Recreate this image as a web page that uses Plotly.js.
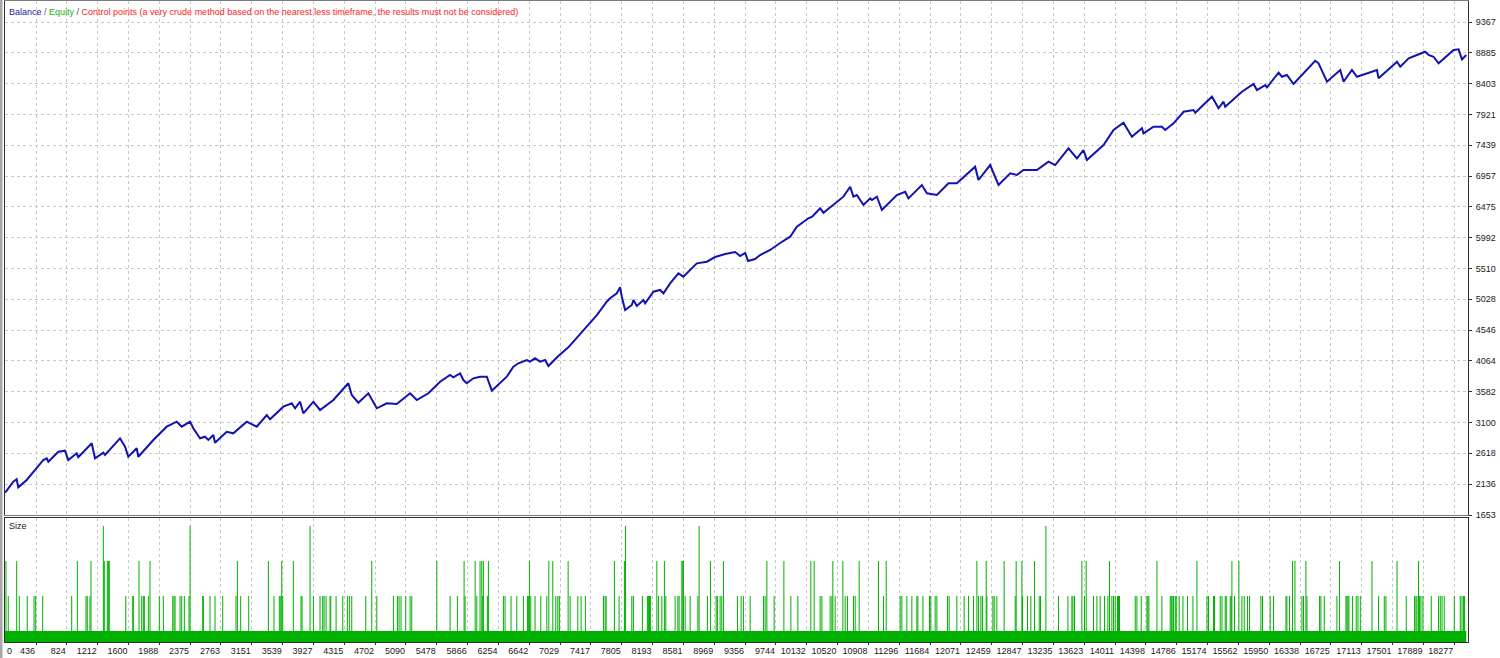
<!DOCTYPE html>
<html><head><meta charset="utf-8">
<script src="https://cdn.plot.ly/plotly-3.0.1.min.js"></script>
<style>html,body{margin:0;padding:0;background:#fff;}#chart{width:1500px;height:658px;}</style>
</head><body><div id="chart"></div>
<script>
const balanceTrades = [0,58,150,193,213,319,528,571,591,717,
801,842,948,968,1137,1178,1283,1304,1493,1556,
1597,1703,1723,1912,2080,2206,2269,2374,2415,2499,
2562,2604,2667,2688,2835,2918,3087,3213,3339,3380,
3548,3653,3695,3758,3799,3925,4009,4177,4365,4408,
4491,4617,4723,4849,4974,5142,5226,5372,5519,5645,
5686,5771,5812,5855,5938,6022,6107,6148,6170,6358,
6441,6504,6567,6610,6651,6714,6777,6840,6882,7007,
7133,7343,7491,7616,7658,7742,7784,7805,7847,7931,
7951,7994,8077,8098,8203,8287,8329,8413,8517,8580,
8749,8875,8979,9105,9231,9294,9357,9394,9482,9545,
9671,9797,9923,10007,10153,10200,10300,10342,10468,10593,
10678,10719,10762,10845,10929,10951,11014,11077,11265,11370,
11411,11580,11643,11769,11915,12020,12250,12292,12439,12544,
12691,12775,12858,13027,13173,13257,13424,13530,13613,13656,
13865,13991,14116,14222,14348,14368,14494,14599,14641,14746,
14872,14997,15019,15229,15312,15375,15396,15606,15752,15795,
15899,15921,16067,16109,16172,16255,16528,16570,16676,16801,
16843,16885,16990,17053,17179,17242,17305,17325,17557,17598,
17703,17808,17912,17954,18017,18080,18206,18269,18332,18374,
18428];
const balanceValues = [2000,2018,2174,2212,2086,2201,2514,2540,2487,2643,
2659,2514,2618,2556,2775,2540,2628,2592,2853,2722,
2565,2697,2565,2827,3035,3113,3035,3113,3010,2853,
2878,2827,2905,2784,2956,2931,3113,3035,3218,3150,
3348,3401,3323,3426,3244,3426,3296,3452,3714,3531,
3410,3557,3323,3401,3390,3557,3452,3557,3739,3844,
3808,3870,3765,3714,3792,3817,3817,3660,3598,3817,
3973,4027,4052,4078,4052,4105,4052,4078,3984,4141,
4277,4574,4782,4991,5044,5122,5216,5069,4861,4939,
5017,4923,5017,4966,5147,5174,5122,5278,5435,5382,
5591,5616,5690,5737,5768,5706,5753,5627,5659,5721,
5800,5909,6008,6164,6296,6320,6452,6383,6504,6634,
6790,6634,6660,6504,6608,6582,6634,6425,6660,6712,
6608,6817,6687,6660,6843,6843,7103,6895,7129,6817,
7000,6973,7051,7051,7181,7129,7391,7234,7364,7208,
7442,7677,7791,7572,7704,7625,7729,7729,7677,7782,
7963,7990,7948,8198,8017,8120,8042,8276,8397,8303,
8381,8345,8574,8511,8538,8397,8761,8721,8433,8564,
8616,8433,8616,8511,8564,8589,8616,8486,8746,8668,
8799,8851,8902,8851,8824,8721,8851,8929,8940,8783,
8851];

const sizeTrades = [58,87,193,226,326,411,432,520,885,956,1065,1081,1115,1128,1283,1295,1333,1346,1358,1565,
1653,1660,1732,1766,1786,1799,1849,1870,1987,2038,2156,2172,2185,2248,2269,2302,2361,2374,2533,2541,
2625,2688,2785,2952,2969,3011,3112,3359,3430,3497,3515,3527,3540,3673,3770,3783,3883,3925,4009,4043,
4060,4085,4135,4144,4211,4295,4353,4378,4408,4584,4660,4723,4932,4982,5003,5028,5087,5142,5163,5478,
5645,5737,5821,5834,5960,5981,6022,6044,6056,6064,6114,6127,
6316,6337,6412,6484,6567,6618,6630,6643,6660,6714,6786,6862,6887,6937,6975,7000,7020,7130,7155,7252,
7293,7347,7574,7595,7608,7712,7771,7838,7851,7931,7951,8064,8127,8140,8153,8165,8246,8266,8309,8341,
8359,8476,8510,8526,8560,8573,8580,8602,8665,8762,8778,8882,8920,8992,9008,9042,9063,9084,9260,9306,
9335,9420,9587,9608,9630,9722,9844,9932,10020,10183,10225,10300,10322,10426,10448,10460,10489,10586,10615,10644,
10719,10741,10791,11034,11097,11131,11307,11328,11391,11454,11517,11530,11593,11676,11693,11747,11769,11902,11923,12020,
12112,12166,12229,12272,12292,12322,12342,12389,12398,12473,12490,12523,
12615,12754,12766,12838,12846,12909,12951,12997,13056,13072,13140,13299,13417,13467,13480,13500,13593,13626,13647,13739,
13782,13823,13878,13920,13940,13970,13991,14012,14041,14054,14066,14264,14285,14339,14411,14423,14436,14537,14599,14704,
14717,14729,14746,14767,14779,14817,14864,14922,14990,15040,15166,15186,15249,15261,15333,15355,15396,15409,15459,15471,
15480,15513,15568,15606,15635,15677,15702,15845,15865,15962,16004,16160,16172,16205,16243,16273,16361,16381,16411,16424,
16583,16600,16642,16801,16834,16915,16927,16940,16952,16998,17044,17066,17095,17242,17325,17397,17418,17557,17673,17778,
17795,17808,17828,17841,17858,17883,17988,18080,18101,18123,18151,18277,18353,18374,18394,18407];
const sizeLots = [3,2,3,2,2,2,2,2,2,3,2,2,2,3,4,3,3,3,3,2,
2,2,3,2,2,2,2,3,2,2,2,2,2,2,2,2,2,4,2,2,
2,2,2,2,3,2,2,3,2,2,2,3,2,3,2,2,4,2,2,2,
2,2,2,2,2,2,2,2,2,2,3,2,2,2,2,2,2,2,2,3,
2,2,3,2,3,2,3,3,2,3,2,3,
2,2,2,2,2,2,2,3,2,2,2,2,3,3,2,2,2,3,2,2,
2,2,2,2,2,3,2,3,4,2,2,2,2,2,2,2,3,2,2,3,
2,2,2,2,3,3,3,2,2,2,4,2,3,2,2,2,2,3,2,2,
2,2,2,2,3,2,3,2,2,3,3,2,2,2,2,3,2,3,2,2,
2,2,3,3,2,3,2,2,2,2,2,2,2,2,2,2,2,2,2,2,
2,2,2,3,2,2,2,3,2,2,2,2,
3,2,3,3,2,2,2,3,2,2,4,2,2,2,2,2,3,2,3,2,
2,2,2,2,3,2,2,2,2,2,2,2,2,2,2,2,2,3,2,2,
2,2,2,2,2,2,2,2,2,3,2,2,2,2,2,2,2,2,2,2,
3,2,3,2,2,2,2,2,2,2,2,2,2,2,3,3,2,2,3,2,
2,2,2,2,3,2,2,2,2,2,2,2,2,3,2,2,2,3,2,2,
2,2,3,2,2,2,2,2,2,2,2,2,2,2,2,2];
const sizeBaseTrades = [0, 18428];
const sizeBaseLots = [1, 1];

const xTickVals = [436,824,1212,1600,1988,2375,2763,3151,3539,3927,4315,4702,5090,5478,5866,6254,6642,7029,7417,7805,8193,8581,8969,9356,9744,10132,10520,10908,11296,11684,12071,12459,12847,13235,13623,14011,14398,14786,15174,15562,15950,16338,16725,17113,17501,17889,18277];
const yTickVals = [1653,2136,2618,3100,3582,4064,4546,5028,5510,5992,6475,6957,7439,7921,8403,8885,9367];

const GREEN = '#00b000';
const spikeX = [], spikeY = [];
for (let i = 0; i < sizeTrades.length; i++) {
  spikeX.push(sizeTrades[i], sizeTrades[i], null);
  spikeY.push(sizeBaseLots[0], sizeLots[i], null);
}

const FONT = 'Liberation Sans, Arial, sans-serif';
const FS = 9;
const gridCol = '#c8c8c8';
const frameCol = '#7a7a7a';

const traces = [
  {x: balanceTrades, y: balanceValues, type: 'scatter', mode: 'lines',
   line: {color: '#1212b0', width: 2}, xaxis: 'x', yaxis: 'y', hoverinfo: 'skip'},
  {x: sizeBaseTrades, y: sizeBaseLots, type: 'scatter', mode: 'lines', fill: 'tozeroy',
   fillcolor: GREEN, line: {color: GREEN, width: 0}, xaxis: 'x2', yaxis: 'y2', hoverinfo: 'skip'},
  {x: spikeX, y: spikeY, type: 'scatter', mode: 'lines', connectgaps: false,
   line: {color: GREEN, width: 1}, xaxis: 'x2', yaxis: 'y2', hoverinfo: 'skip'}
];

const xr = [46, 18450];
const layout = {
  width: 1500, height: 658,
  margin: {l: 5, r: 32, t: 1, b: 16, pad: 0},
  paper_bgcolor: '#ffffff', plot_bgcolor: '#ffffff',
  showlegend: false,
  font: {family: FONT, size: FS, color: '#202020'},
  xaxis: {domain: [0, 1], range: xr, anchor: 'y', tickvals: xTickVals, showticklabels: false,
    ticks: '', showgrid: true, gridcolor: gridCol, griddash: '3px,3px', gridwidth: 1,
    showline: true, mirror: true, linecolor: frameCol, linewidth: 1, zeroline: false, fixedrange: true},
  yaxis: {domain: [0.19813, 1], range: [1653, 9696], anchor: 'x', side: 'right',
    tickvals: yTickVals, ticktext: yTickVals.map(String), ticks: 'outside', ticklen: 3,
    tickcolor: '#303030', tickfont: {family: FONT, size: FS, color: '#202020'}, ticklabelstandoff: 2,
    showgrid: true, gridcolor: gridCol, griddash: '3px,3px', gridwidth: 1,
    showline: true, mirror: true, linecolor: '#303030', linewidth: 1, zeroline: false, fixedrange: true},
  xaxis2: {domain: [0, 1], range: xr, anchor: 'y2', tickvals: xTickVals, ticktext: xTickVals.map(String),
    ticklabelposition: 'outside left', tickangle: 0, ticks: 'outside', ticklen: 2, tickcolor: '#303030',
    tickfont: {family: FONT, size: FS, color: '#202020'},
    showgrid: true, gridcolor: gridCol, griddash: '3px,3px', gridwidth: 1,
    showline: true, mirror: true, linecolor: '#303030', linewidth: 1, zeroline: false, fixedrange: true},
  yaxis2: {domain: [0, 0.19345], range: [0.686, 4.229], anchor: 'x2', side: 'right',
    showticklabels: false, ticks: '', showgrid: false,
    showline: true, mirror: true, linecolor: '#303030', linewidth: 1, zeroline: false, fixedrange: true},
  annotations: [
    {xref: 'paper', yref: 'paper', x: 0, y: 1, xanchor: 'left', yanchor: 'top', xshift: 2, yshift: -4,
     showarrow: false, align: 'left', font: {family: FONT, size: FS},
     text: '<span style="color:#1a1aa8">Balance</span><span style="color:#505050"> / </span><span style="color:#20b020">Equity</span><span style="color:#505050"> / </span><span style="color:#ff2020">Control points (a very crude method based on the nearest less timeframe, the results must not be considered)</span>'},
    {xref: 'paper', yref: 'paper', x: 0, y: 0.19345, xanchor: 'left', yanchor: 'top', xshift: 2, yshift: -1,
     showarrow: false, font: {family: FONT, size: FS, color: '#202020'}, text: 'Size'},
    {xref: 'paper', yref: 'paper', x: 0, y: 0, xanchor: 'left', yanchor: 'top', xshift: 0, yshift: -2,
     showarrow: false, font: {family: FONT, size: FS, color: '#202020'}, text: '0'}
  ],
  shapes: [
    {type: 'rect', xref: 'paper', yref: 'paper', x0: -5/1463, x1: -2.5/1463, y0: -16/641, y1: 1 + 1/641,
     fillcolor: '#a8a8a8', line: {width: 0}, layer: 'below'}
  ]
};

Plotly.newPlot('chart', traces, layout, {staticPlot: true, displayModeBar: false});
</script></body></html>
